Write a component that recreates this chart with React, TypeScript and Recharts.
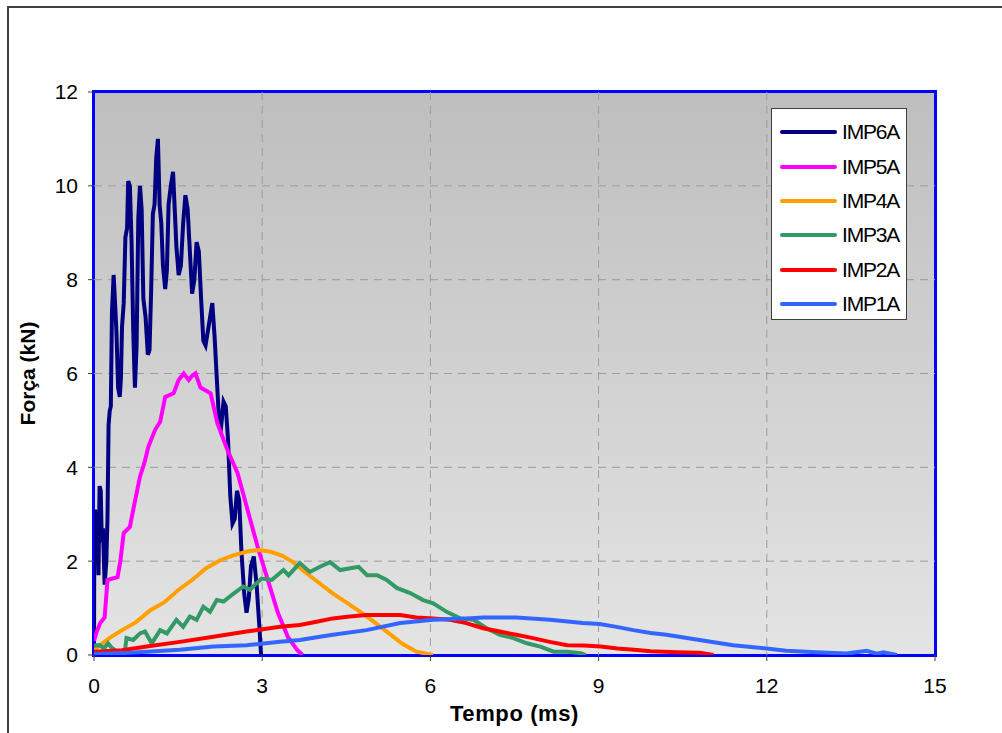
import React from 'react';
import { LineChart, Line, XAxis, YAxis, CartesianGrid, Legend } from 'recharts';

// IMP6A
const imp6aTempo = [0, 0.005, 0.02, 0.04, 0.06, 0.08, 0.1, 0.12, 0.14, 0.16, 0.19, 0.22, 0.24, 0.26, 0.28, 0.3, 0.32, 0.35, 0.38, 0.4, 0.43, 0.46, 0.48, 0.5, 0.53, 0.56, 0.59, 0.61, 0.64, 0.67, 0.7, 0.73, 0.76, 0.79, 0.82, 0.85, 0.88, 0.92, 0.96, 0.99, 1.02, 1.05, 1.08, 1.11, 1.14, 1.17, 1.2, 1.23, 1.27, 1.3, 1.33, 1.37, 1.41, 1.44, 1.47, 1.51, 1.55, 1.59, 1.63, 1.67, 1.71, 1.75, 1.79, 1.83, 1.87, 1.91, 1.95, 1.99, 2.03, 2.07, 2.11, 2.15, 2.19, 2.23, 2.27, 2.31, 2.35, 2.39, 2.43, 2.47, 2.51, 2.55, 2.59, 2.63, 2.68, 2.72, 2.76, 2.8, 2.85, 2.9, 2.95, 2.98];
const imp6aForca = [0, 2.4, 3.1, 2.3, 2.9, 1.7, 3.6, 3.5, 2.4, 2.7, 1.5, 2.0, 2.9, 4.9, 5.2, 5.3, 7.3, 8.1, 7.4, 6.9, 5.7, 5.5, 5.9, 7.0, 7.5, 8.9, 9.1, 10.1, 10.0, 8.8, 6.9, 5.7, 6.6, 9.3, 10.0, 9.5, 7.6, 7.2, 6.4, 6.5, 7.8, 9.4, 9.6, 10.6, 11.0, 9.6, 9.2, 8.3, 7.8, 8.2, 9.6, 10.0, 10.3, 9.5, 8.7, 8.1, 8.3, 9.2, 9.8, 9.5, 8.6, 7.7, 8.0, 8.8, 8.6, 7.6, 6.7, 6.6, 6.9, 7.2, 7.5, 6.8, 5.9, 5.0, 4.9, 5.4, 5.3, 4.6, 3.4, 2.8, 2.9, 3.5, 3.3, 2.2, 1.3, 0.9, 1.2, 1.9, 2.1, 1.5, 0.6, 0];

// IMP5A
const imp5aTempo = [0, 0.05, 0.11, 0.19, 0.24, 0.3, 0.42, 0.47, 0.53, 0.64, 0.7, 0.76, 0.82, 0.9, 0.97, 1.09, 1.18, 1.27, 1.42, 1.51, 1.6, 1.69, 1.75, 1.81, 1.9, 2.08, 2.2, 2.38, 2.56, 2.74, 2.92, 3.1, 3.28, 3.46, 3.63, 3.72];
const imp5aForca = [0.3, 0.5, 0.68, 0.8, 1.6, 1.62, 1.66, 2.0, 2.6, 2.73, 3.1, 3.45, 3.8, 4.1, 4.44, 4.8, 4.97, 5.5, 5.58, 5.86, 6.0, 5.86, 5.95, 6.0, 5.7, 5.58, 4.94, 4.37, 3.88, 3.09, 2.3, 1.6, 0.9, 0.38, 0.1, 0];

// IMP4A
const imp4aTempo = [0, 0.15, 0.3, 0.5, 0.75, 1.0, 1.25, 1.5, 1.75, 2.0, 2.25, 2.5, 2.75, 2.95, 3.15, 3.35, 3.55, 3.75, 4.0, 4.25, 4.5, 4.75, 5.0, 5.25, 5.5, 5.75, 6.05];
const imp4aForca = [0.1, 0.25, 0.38, 0.53, 0.7, 0.95, 1.12, 1.38, 1.6, 1.85, 2.02, 2.13, 2.21, 2.24, 2.2, 2.12, 1.98, 1.78, 1.55, 1.32, 1.12, 0.92, 0.7, 0.47, 0.24, 0.07, 0];

// IMP3A
const imp3aTempo = [0, 0.1, 0.18, 0.25, 0.32, 0.4, 0.55, 0.58, 0.7, 0.82, 0.91, 1.03, 1.18, 1.3, 1.47, 1.59, 1.71, 1.83, 1.95, 2.07, 2.19, 2.31, 2.49, 2.66, 2.78, 2.99, 3.17, 3.38, 3.47, 3.67, 3.85, 4.03, 4.21, 4.39, 4.57, 4.72, 4.87, 5.05, 5.22, 5.4, 5.64, 5.87, 6.05, 6.29, 6.53, 6.77, 7.0, 7.24, 7.48, 7.72, 7.96, 8.2, 8.44, 8.68, 8.77];
const imp3aForca = [0.2, 0.21, 0.14, 0.25, 0.15, 0.08, 0.08, 0.36, 0.32, 0.46, 0.5, 0.25, 0.53, 0.46, 0.75, 0.6, 0.82, 0.75, 1.03, 0.92, 1.17, 1.14, 1.31, 1.46, 1.39, 1.63, 1.6, 1.81, 1.7, 1.96, 1.77, 1.88, 1.98, 1.81, 1.85, 1.88, 1.7, 1.7, 1.6, 1.43, 1.32, 1.17, 1.1, 0.92, 0.78, 0.75, 0.57, 0.43, 0.36, 0.25, 0.18, 0.07, 0.07, 0.04, 0];

// IMP2A
const imp2aTempo = [0, 0.5, 0.94, 1.53, 2.13, 2.72, 3.32, 3.67, 3.97, 4.26, 4.56, 4.86, 5.16, 5.46, 5.75, 6.05, 6.35, 6.64, 6.94, 7.24, 7.53, 7.83, 8.13, 8.44, 8.74, 9.04, 9.34, 9.63, 9.93, 10.4, 10.8, 11.05];
const imp2aForca = [0.07, 0.1, 0.18, 0.28, 0.39, 0.5, 0.6, 0.64, 0.71, 0.78, 0.82, 0.85, 0.85, 0.85, 0.8, 0.78, 0.75, 0.68, 0.57, 0.5, 0.43, 0.36, 0.28, 0.21, 0.2, 0.18, 0.14, 0.11, 0.08, 0.06, 0.05, 0];

// IMP1A
const imp1aTempo = [0, 0.5, 0.94, 1.53, 2.13, 2.72, 3.32, 3.67, 4.03, 4.26, 4.86, 5.46, 6.05, 6.64, 6.94, 7.53, 8.13, 8.72, 9.02, 9.32, 9.62, 9.93, 10.21, 10.8, 11.4, 11.99, 12.35, 12.88, 13.42, 13.78, 13.96, 14.08, 14.32];
const imp1aForca = [0.02, 0.04, 0.07, 0.11, 0.18, 0.21, 0.28, 0.32, 0.39, 0.43, 0.53, 0.68, 0.75, 0.78, 0.8, 0.8, 0.75, 0.68, 0.66, 0.6, 0.53, 0.47, 0.43, 0.32, 0.21, 0.14, 0.09, 0.06, 0.03, 0.09, 0.03, 0.06, 0];

const xTicks = [0, 3, 6, 9, 12, 15];
const yTicks = [0, 2, 4, 6, 8, 10, 12];
const xGrid = [3, 6, 9, 12];
const yGrid = [2, 4, 6, 8, 10];

const toPoints = (t: number[], f: number[]) => t.map((x, i) => ({ x, y: f[i] }));

const series = [
  { name: 'IMP6A', color: '#000080', data: toPoints(imp6aTempo, imp6aForca) },
  { name: 'IMP5A', color: '#ff00ff', data: toPoints(imp5aTempo, imp5aForca) },
  { name: 'IMP4A', color: '#ffa000', data: toPoints(imp4aTempo, imp4aForca) },
  { name: 'IMP3A', color: '#339966', data: toPoints(imp3aTempo, imp3aForca) },
  { name: 'IMP2A', color: '#ff0000', data: toPoints(imp2aTempo, imp2aForca) },
  { name: 'IMP1A', color: '#3366ff', data: toPoints(imp1aTempo, imp1aForca) },
];

const font = '"Liberation Sans", Arial, sans-serif';

function LegendBox() {
  return (
    <div
      style={{
        width: 136,
        height: 212,
        boxSizing: 'border-box',
        background: '#fff',
        border: '1.5px solid #404040',
        paddingTop: 6,
        fontFamily: font,
      }}
    >
      {series.map((s) => (
        <div key={s.name} style={{ display: 'flex', alignItems: 'center', height: 34.4 }}>
          <div style={{ marginLeft: 8, width: 57, height: 4, borderRadius: 2, background: s.color }} />
          <span style={{ marginLeft: 5, fontSize: 21, letterSpacing: -1.2, color: '#000' }}>{s.name}</span>
        </div>
      ))}
    </div>
  );
}

export default function App() {
  return (
    <div style={{ position: 'absolute', left: 0, top: 0, width: 1002, height: 733, background: '#fff', overflow: 'hidden' }}>
      {/* outer frame */}
      <div style={{ position: 'absolute', left: 7, top: 6, width: 1200, height: 900, borderLeft: '2px solid #404040', borderTop: '2px solid #404040' }} />
      {/* plot background and border */}
      <div
        style={{
          position: 'absolute',
          left: 92,
          top: 90,
          width: 845,
          height: 567,
          boxSizing: 'border-box',
          border: '3px solid #0000ff',
          background: 'linear-gradient(#bebebe, #e4e4e4)',
        }}
      />
      <div style={{ position: 'absolute', left: 0, top: 0 }}>
        <LineChart width={1002} height={733} margin={{ top: 92, right: 67, left: 24, bottom: 38 }}>
          <CartesianGrid stroke="#9c9c9c" strokeDasharray="8 6" strokeWidth={1} horizontalValues={yGrid} verticalValues={xGrid} />
          <XAxis
            dataKey="x"
            type="number"
            domain={[0, 15]}
            ticks={xTicks}
            allowDataOverflow
            height={40}
            axisLine={false}
            tickLine={{ stroke: '#404040' }}
            tickSize={6}
            tickMargin={17}
            tick={{ fill: '#000', fontSize: 21, fontFamily: font }}
            label={{ value: 'Tempo (ms)', position: 'bottom', offset: 10, style: { fontSize: 22, fontWeight: 'bold', letterSpacing: 0.6, fill: '#000', fontFamily: font } }}
          />
          <YAxis
            dataKey="y"
            type="number"
            domain={[0, 12]}
            ticks={yTicks}
            allowDataOverflow
            width={70}
            axisLine={false}
            tickLine={{ stroke: '#404040' }}
            tickSize={6}
            tickMargin={10}
            tick={{ fill: '#000', fontSize: 21, fontFamily: font }}
            label={{ value: 'Força (kN)', angle: -90, position: 'insideLeft', offset: 4, style: { textAnchor: 'middle', fontSize: 21, fontWeight: 'bold', fill: '#000', fontFamily: font } }}
          />
          <Legend
            layout="vertical"
            align="center"
            verticalAlign="middle"
            wrapperStyle={{ left: 771, top: 108, width: 136 }}
            content={() => <LegendBox />}
          />
          {series.map((s) => (
            <Line
              key={s.name}
              data={s.data}
              dataKey="y"
              name={s.name}
              type="linear"
              stroke={s.color}
              strokeWidth={4}
              dot={false}
              isAnimationActive={false}
            />
          ))}
        </LineChart>
      </div>
    </div>
  );
}
